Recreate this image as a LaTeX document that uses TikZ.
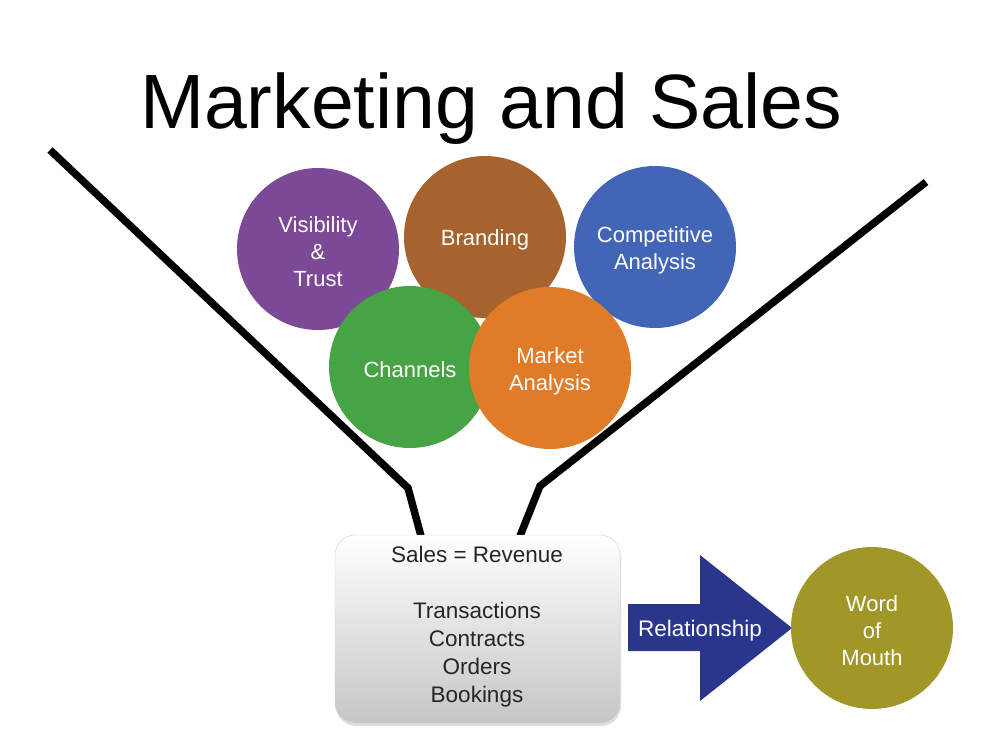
\documentclass[tikz,border=0pt]{standalone}
\usepackage{fontspec}
\setmainfont{Liberation Sans}
\usetikzlibrary{shadows}

\definecolor{vispurple}{RGB}{123,73,149}
\definecolor{brandbrown}{RGB}{166,99,46}
\definecolor{compblue}{RGB}{67,101,181}
\definecolor{changreen}{RGB}{70,164,68}
\definecolor{markorange}{RGB}{224,123,40}
\definecolor{wordolive}{RGB}{160,151,40}
\definecolor{relblue}{RGB}{41,54,140}

\begin{document}
\begin{tikzpicture}[x=1pt, y=-1pt,
		topic/.style={circle, inner sep=0pt, minimum size=162pt},
		topictext/.style={align=center, text=white, font=\fontsize{22}{27}\selectfont},
		funnel/.style={line width=7.5pt, line join=miter},
		salesbox/.style={rounded corners=20pt, minimum width=285pt, minimum height=188pt, top color=white, bottom color=gray!45, draw=gray!35, drop shadow={opacity=.25, shadow xshift=1pt, shadow yshift=-3pt}},
		boxtext/.style={align=center, text=black!85, font=\fontsize{22.5}{28}\selectfont}]
		\newcommand\topicball[5]{ %% argument 1: name, argument 2: x, argument 3: y, argument 4: colour, argument 5: text
			\node[topic, fill=#4] (#1) at (#2,#3) {};
			\node[topictext] (#1text) at ([yshift=-3pt]#1.center) {#5};
		}
		
		\useasboundingbox (0,0) rectangle (983,737);
		
		\node[anchor=base, font=\fontsize{77}{80}\selectfont] (title) at (491,128) {Marketing and Sales};
		
		% funnel
		\draw[funnel] (50,150) -- (408,488) -- (421,536);
		\draw[funnel] (926,182) -- (540,486) -- (520,536);
		
		\topicball{trust}{318}{249}{vispurple}{Visibility\\\&\\Trust}
		\topicball{brand}{485}{237}{brandbrown}{Branding}
		\topicball{compet}{655}{247}{compblue}{Competitive\\Analysis}
		\topicball{chan}{410}{367}{changreen}{Channels}
		\topicball{market}{550}{368}{markorange}{Market\\Analysis}
		
		\node[salesbox] (sales) at (477.5,629) {};
		\node[boxtext] (salestext) at (477,627) {Sales = Revenue\\[28pt]Transactions\\Contracts\\Orders\\Bookings};
		
		\fill[relblue] (628,604) -- (700,604) -- (700,555) -- (792,628) -- (700,701) -- (700,651) -- (628,651) -- cycle;
		\node[text=white, font=\fontsize{22.5}{27}\selectfont] (rel) at (700,631) {Relationship};
		
		\topicball{word}{872}{628}{wordolive}{Word\\of\\Mouth}
	\end{tikzpicture}
\end{document}
